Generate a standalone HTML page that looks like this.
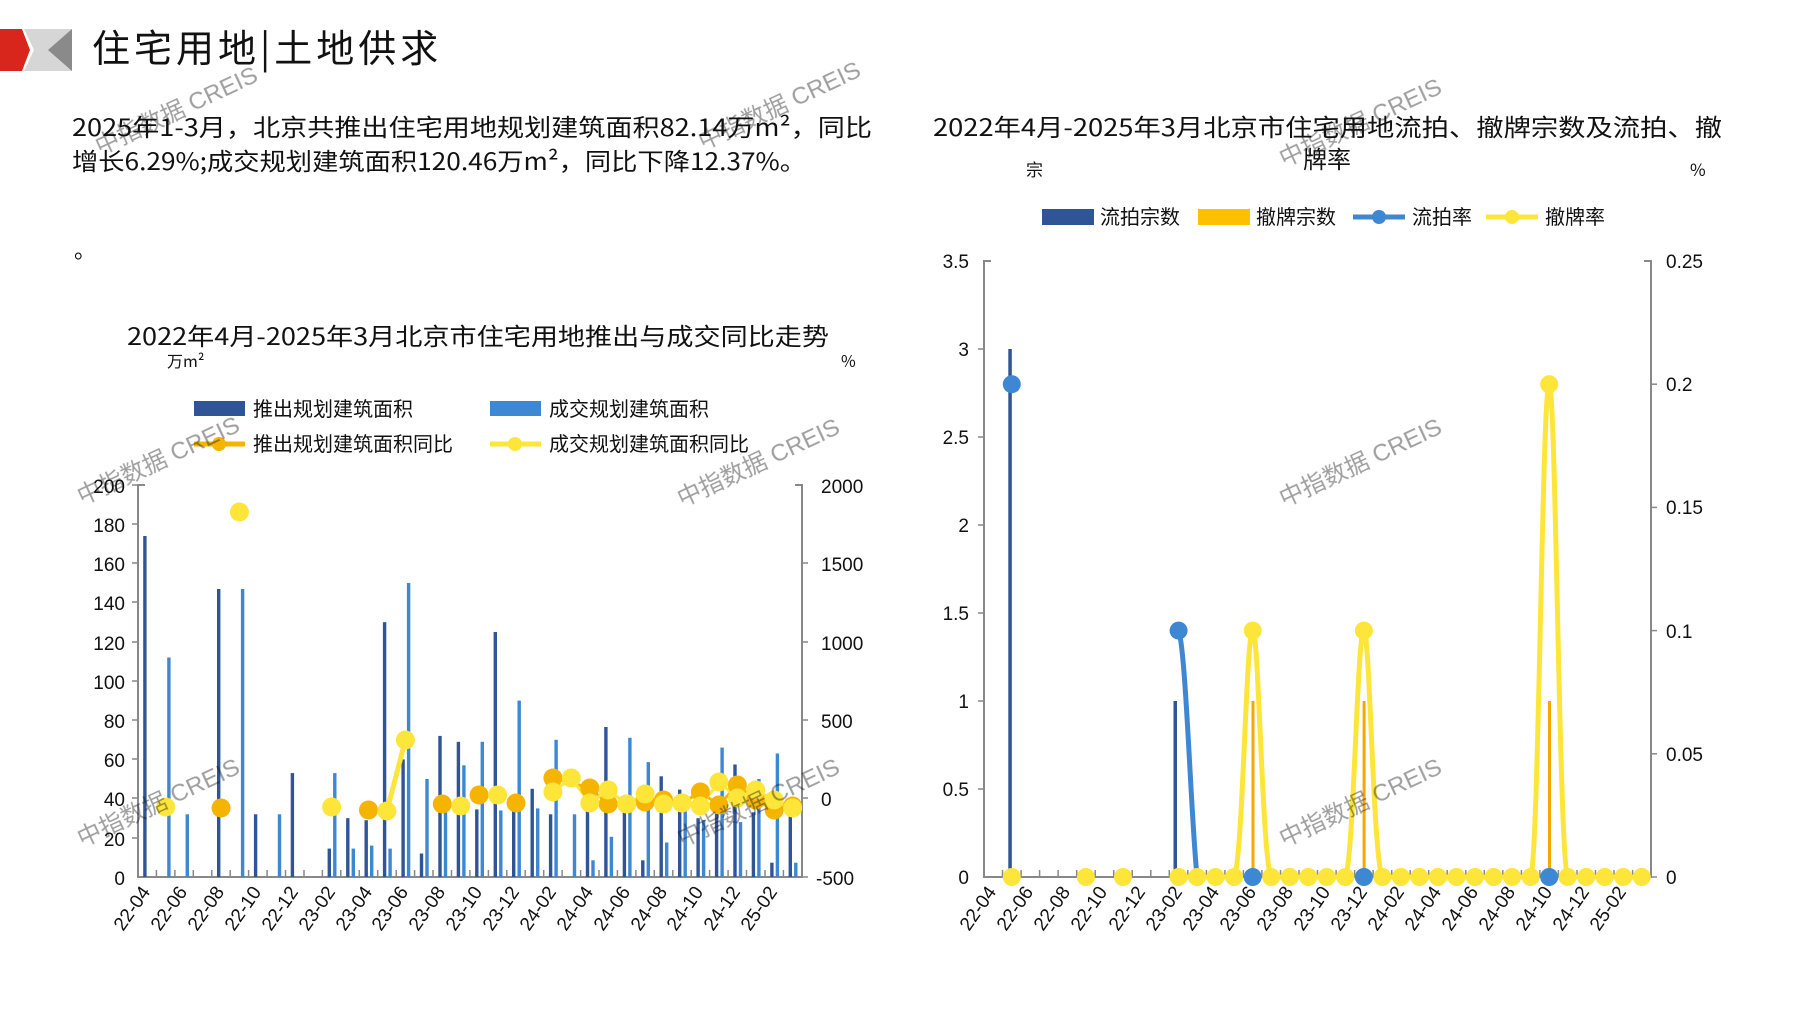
<!DOCTYPE html>
<html><head><meta charset="utf-8"><style>
html,body{margin:0;padding:0;background:#fff;}
svg{display:block;}
text{font-family:"Liberation Sans","Noto Sans CJK SC",sans-serif;fill:#111;}
.cj{font-family:"Noto Sans CJK SC","Liberation Sans",sans-serif;}
.wm{fill:#b8b8b8;opacity:.4;font-size:24px;font-family:"Liberation Sans","Noto Sans CJK SC",sans-serif;}
.ax{stroke:#888;stroke-width:2;fill:none;}
.tk{stroke:#888;stroke-width:1.5;}
.lb{font-size:19px;}
.xl{font-size:19px;}
</style></head><body>
<svg width="1797" height="1010" viewBox="0 0 1797 1010" xmlns="http://www.w3.org/2000/svg">
<polygon points="0,29 22,29 30,50 22,71 0,71" fill="#d9261c"/>
<polygon points="24,29 72,29 72,71 24,71 34,50" fill="#d6d6d6"/>
<polygon points="48,50 72,29 72,71" fill="#8a8a8a"/>
<text x="92" y="62" class="cj" font-size="38" letter-spacing="4">住宅用地|土地供求</text>

<text x="72" y="136" class="cj" font-size="24" textLength="800" lengthAdjust="spacingAndGlyphs">2025年1-3月，北京共推出住宅用地规划建筑面积82.14万m²，同比</text>
<text x="72" y="170" class="cj" font-size="24" textLength="734" lengthAdjust="spacingAndGlyphs">增长6.29%;成交规划建筑面积120.46万m²，同比下降12.37%。</text>
<text x="74" y="258" class="cj" font-size="22">。</text>

<text x="127" y="345" class="cj" font-size="24" textLength="702" lengthAdjust="spacingAndGlyphs">2022年4月-2025年3月北京市住宅用地推出与成交同比走势</text>
<text x="167" y="367" class="cj" font-size="16">万m²</text>
<text x="841" y="367" class="cj" font-size="16">%</text>
<rect x="194" y="401" width="51" height="15" fill="#2f5597"/>
<text x="253" y="416" class="cj" font-size="20">推出规划建筑面积</text>
<rect x="490" y="401" width="51" height="15" fill="#3e87d3"/>
<text x="549" y="416" class="cj" font-size="20">成交规划建筑面积</text>
<line x1="194" y1="444" x2="245" y2="444" stroke="#f5b400" stroke-width="5"/><circle cx="219" cy="444" r="7" fill="#f5b400"/>
<text x="253" y="451" class="cj" font-size="20">推出规划建筑面积同比</text>
<line x1="490" y1="444" x2="541" y2="444" stroke="#fde53a" stroke-width="5"/><circle cx="515" cy="444" r="7" fill="#fde53a"/>
<text x="549" y="451" class="cj" font-size="20">成交规划建筑面积同比</text>

<path class="ax" d="M145,485 H138 V877 H802 V485 H795"/>
<g class="tk">
<line x1="132" y1="485" x2="138" y2="485"/><line x1="132" y1="524" x2="138" y2="524"/><line x1="132" y1="563" x2="138" y2="563"/><line x1="132" y1="602" x2="138" y2="602"/><line x1="132" y1="642" x2="138" y2="642"/><line x1="132" y1="681" x2="138" y2="681"/><line x1="132" y1="720" x2="138" y2="720"/><line x1="132" y1="759" x2="138" y2="759"/><line x1="132" y1="798" x2="138" y2="798"/><line x1="132" y1="838" x2="138" y2="838"/>
<line x1="802" y1="563" x2="808" y2="563"/><line x1="802" y1="642" x2="808" y2="642"/><line x1="802" y1="720" x2="808" y2="720"/><line x1="802" y1="798" x2="808" y2="798"/><line x1="802" y1="877" x2="808" y2="877"/>
</g>
<g class="tk">
<line x1="156.4" y1="877" x2="156.4" y2="870"/><line x1="174.9" y1="877" x2="174.9" y2="870"/><line x1="193.3" y1="877" x2="193.3" y2="870"/><line x1="211.8" y1="877" x2="211.8" y2="870"/><line x1="230.2" y1="877" x2="230.2" y2="870"/><line x1="248.6" y1="877" x2="248.6" y2="870"/><line x1="267.1" y1="877" x2="267.1" y2="870"/><line x1="285.5" y1="877" x2="285.5" y2="870"/><line x1="304" y1="877" x2="304" y2="870"/><line x1="322.4" y1="877" x2="322.4" y2="870"/><line x1="340.8" y1="877" x2="340.8" y2="870"/><line x1="359.3" y1="877" x2="359.3" y2="870"/><line x1="377.7" y1="877" x2="377.7" y2="870"/><line x1="396.2" y1="877" x2="396.2" y2="870"/><line x1="414.6" y1="877" x2="414.6" y2="870"/><line x1="433" y1="877" x2="433" y2="870"/><line x1="451.5" y1="877" x2="451.5" y2="870"/><line x1="469.9" y1="877" x2="469.9" y2="870"/><line x1="488.4" y1="877" x2="488.4" y2="870"/><line x1="506.8" y1="877" x2="506.8" y2="870"/><line x1="525.2" y1="877" x2="525.2" y2="870"/><line x1="543.7" y1="877" x2="543.7" y2="870"/><line x1="562.1" y1="877" x2="562.1" y2="870"/><line x1="580.6" y1="877" x2="580.6" y2="870"/><line x1="599" y1="877" x2="599" y2="870"/><line x1="617.4" y1="877" x2="617.4" y2="870"/><line x1="635.9" y1="877" x2="635.9" y2="870"/><line x1="654.3" y1="877" x2="654.3" y2="870"/><line x1="672.8" y1="877" x2="672.8" y2="870"/><line x1="691.2" y1="877" x2="691.2" y2="870"/><line x1="709.6" y1="877" x2="709.6" y2="870"/><line x1="728.1" y1="877" x2="728.1" y2="870"/><line x1="746.5" y1="877" x2="746.5" y2="870"/><line x1="765" y1="877" x2="765" y2="870"/><line x1="783.4" y1="877" x2="783.4" y2="870"/>
</g>
<g class="lb" text-anchor="end">
<text x="125" y="493">200</text><text x="125" y="532">180</text><text x="125" y="571">160</text><text x="125" y="610">140</text><text x="125" y="650">120</text><text x="125" y="689">100</text><text x="125" y="728">80</text><text x="125" y="767">60</text><text x="125" y="806">40</text><text x="125" y="846">20</text><text x="125" y="885">0</text>
</g>
<g class="lb">
<text x="821" y="493">2000</text><text x="821" y="571">1500</text><text x="821" y="650">1000</text><text x="821" y="728">500</text><text x="821" y="806">0</text><text x="816" y="885">-500</text>
</g>
<g fill="#2f5597">
<rect x="143.2" y="536" width="3.4" height="341"/><rect x="217" y="589" width="3.4" height="288"/><rect x="253.9" y="814.3" width="3.4" height="62.7"/><rect x="290.7" y="773.1" width="3.4" height="103.9"/><rect x="327.6" y="848.6" width="3.4" height="28.4"/><rect x="346.1" y="818.2" width="3.4" height="58.8"/><rect x="364.5" y="820.2" width="3.4" height="56.8"/><rect x="382.9" y="622.2" width="3.4" height="254.8"/><rect x="401.4" y="759.4" width="3.4" height="117.6"/><rect x="419.8" y="853.5" width="3.4" height="23.5"/><rect x="438.3" y="735.9" width="3.4" height="141.1"/><rect x="456.7" y="741.8" width="3.4" height="135.2"/><rect x="475.1" y="809.4" width="3.4" height="67.6"/><rect x="493.6" y="632" width="3.4" height="245"/><rect x="512" y="803.3" width="3.4" height="73.7"/><rect x="530.5" y="788.8" width="3.4" height="88.2"/><rect x="548.9" y="814.3" width="3.4" height="62.7"/><rect x="585.8" y="806.4" width="3.4" height="70.6"/><rect x="604.2" y="727" width="3.4" height="150"/><rect x="622.7" y="808.4" width="3.4" height="68.6"/><rect x="641.1" y="860.3" width="3.4" height="16.7"/><rect x="659.5" y="776.3" width="3.4" height="100.7"/><rect x="678" y="789.6" width="3.4" height="87.4"/><rect x="696.4" y="818.2" width="3.4" height="58.8"/><rect x="714.9" y="798.6" width="3.4" height="78.4"/><rect x="733.3" y="764.5" width="3.4" height="112.5"/><rect x="751.7" y="812.3" width="3.4" height="64.7"/><rect x="770.2" y="862.7" width="3.4" height="14.3"/><rect x="788.6" y="798.6" width="3.4" height="78.4"/>
</g>
<g fill="#3e87d3">
<rect x="167.2" y="657.5" width="3.4" height="219.5"/><rect x="185.6" y="814.3" width="3.4" height="62.7"/><rect x="240.9" y="589" width="3.4" height="288"/><rect x="277.8" y="814.3" width="3.4" height="62.7"/><rect x="333.1" y="773.1" width="3.4" height="103.9"/><rect x="351.6" y="848.6" width="3.4" height="28.4"/><rect x="370" y="845.6" width="3.4" height="31.4"/><rect x="388.4" y="848.6" width="3.4" height="28.4"/><rect x="406.9" y="583" width="3.4" height="294"/><rect x="425.3" y="779" width="3.4" height="98"/><rect x="443.8" y="806.4" width="3.4" height="70.6"/><rect x="462.2" y="765.3" width="3.4" height="111.7"/><rect x="480.6" y="741.8" width="3.4" height="135.2"/><rect x="499.1" y="810.4" width="3.4" height="66.6"/><rect x="517.5" y="700.6" width="3.4" height="176.4"/><rect x="536" y="808.4" width="3.4" height="68.6"/><rect x="554.4" y="739.8" width="3.4" height="137.2"/><rect x="572.8" y="814.3" width="3.4" height="62.7"/><rect x="591.3" y="860.3" width="3.4" height="16.7"/><rect x="609.7" y="836.8" width="3.4" height="40.2"/><rect x="628.2" y="737.8" width="3.4" height="139.2"/><rect x="646.6" y="762.1" width="3.4" height="114.9"/><rect x="665" y="842.5" width="3.4" height="34.5"/><rect x="683.5" y="808.4" width="3.4" height="68.6"/><rect x="701.9" y="820.2" width="3.4" height="56.8"/><rect x="720.4" y="747.6" width="3.4" height="129.4"/><rect x="738.8" y="822.1" width="3.4" height="54.9"/><rect x="757.2" y="779" width="3.4" height="98"/><rect x="775.7" y="753.5" width="3.4" height="123.5"/><rect x="794.1" y="862.7" width="3.4" height="14.3"/>
</g>
<polyline fill="none" stroke="#f5b400" stroke-width="3" points="552.9,778 589.8,788 608.2,804 626.7,804 645.1,802 663.5,800 682,803 700.4,792 718.9,805 737.3,785 755.7,800 774.2,810 792.6,806"/>
<polyline fill="none" stroke="#fde53a" stroke-width="3" points="552.9,792 571.3,778 589.8,803 608.2,790 626.7,804 645.1,794 663.5,804 682,803 700.4,806 718.9,782 737.3,798 755.7,790 774.2,800 792.6,808"/>
<line x1="386.9" y1="811" x2="405.4" y2="740" stroke="#fde53a" stroke-width="5"/>
<g fill="#f5b400">
<circle cx="221" cy="808" r="9.5"/><circle cx="368.5" cy="810" r="9.5"/><circle cx="442.3" cy="804" r="9.5"/><circle cx="479.1" cy="795" r="9.5"/><circle cx="516" cy="803" r="9.5"/><circle cx="552.9" cy="778" r="9.5"/><circle cx="589.8" cy="788" r="9.5"/><circle cx="608.2" cy="804" r="9.5"/><circle cx="626.7" cy="804" r="9.5"/><circle cx="645.1" cy="802" r="9.5"/><circle cx="663.5" cy="800" r="9.5"/><circle cx="682" cy="803" r="9.5"/><circle cx="700.4" cy="792" r="9.5"/><circle cx="718.9" cy="805" r="9.5"/><circle cx="737.3" cy="785" r="9.5"/><circle cx="755.7" cy="800" r="9.5"/><circle cx="774.2" cy="810" r="9.5"/><circle cx="792.6" cy="806" r="9.5"/>
</g>
<g fill="#fde53a">
<circle cx="165.7" cy="807" r="9.5"/><circle cx="239.4" cy="512" r="9.5"/><circle cx="331.6" cy="807" r="9.5"/><circle cx="386.9" cy="811" r="9.5"/><circle cx="405.4" cy="740" r="9.5"/><circle cx="460.7" cy="806" r="9.5"/><circle cx="497.6" cy="795" r="9.5"/><circle cx="552.9" cy="792" r="9.5"/><circle cx="571.3" cy="778" r="9.5"/><circle cx="589.8" cy="803" r="9.5"/><circle cx="608.2" cy="790" r="9.5"/><circle cx="626.7" cy="804" r="9.5"/><circle cx="645.1" cy="794" r="9.5"/><circle cx="663.5" cy="804" r="9.5"/><circle cx="682" cy="803" r="9.5"/><circle cx="700.4" cy="806" r="9.5"/><circle cx="718.9" cy="782" r="9.5"/><circle cx="737.3" cy="798" r="9.5"/><circle cx="755.7" cy="790" r="9.5"/><circle cx="774.2" cy="800" r="9.5"/><circle cx="792.6" cy="808" r="9.5"/>
</g>
<g class="xl" text-anchor="end">
<text transform="translate(151,892) rotate(-55)">22-04</text>
<text transform="translate(188,892) rotate(-55)">22-06</text>
<text transform="translate(225,892) rotate(-55)">22-08</text>
<text transform="translate(262,892) rotate(-55)">22-10</text>
<text transform="translate(299,892) rotate(-55)">22-12</text>
<text transform="translate(336,892) rotate(-55)">23-02</text>
<text transform="translate(373,892) rotate(-55)">23-04</text>
<text transform="translate(409,892) rotate(-55)">23-06</text>
<text transform="translate(446,892) rotate(-55)">23-08</text>
<text transform="translate(483,892) rotate(-55)">23-10</text>
<text transform="translate(520,892) rotate(-55)">23-12</text>
<text transform="translate(557,892) rotate(-55)">24-02</text>
<text transform="translate(594,892) rotate(-55)">24-04</text>
<text transform="translate(631,892) rotate(-55)">24-06</text>
<text transform="translate(668,892) rotate(-55)">24-08</text>
<text transform="translate(704,892) rotate(-55)">24-10</text>
<text transform="translate(741,892) rotate(-55)">24-12</text>
<text transform="translate(778,892) rotate(-55)">25-02</text>
</g>

<text x="933" y="136" class="cj" font-size="24" textLength="789" lengthAdjust="spacingAndGlyphs">2022年4月-2025年3月北京市住宅用地流拍、撤牌宗数及流拍、撤</text>
<text x="1327" y="168" class="cj" font-size="24" text-anchor="middle">牌率</text>
<text x="1026" y="176" class="cj" font-size="17">宗</text>
<text x="1690" y="176" class="cj" font-size="17">%</text>
<rect x="1042" y="209" width="52" height="16" fill="#2f5597"/>
<text x="1100" y="224" class="cj" font-size="20">流拍宗数</text>
<rect x="1198" y="209" width="52" height="16" fill="#ffc000"/>
<text x="1256" y="224" class="cj" font-size="20">撤牌宗数</text>
<line x1="1353" y1="217" x2="1405" y2="217" stroke="#3e87d3" stroke-width="5"/><circle cx="1379" cy="217" r="7" fill="#3e87d3"/>
<text x="1412" y="224" class="cj" font-size="20">流拍率</text>
<line x1="1486" y1="217" x2="1538" y2="217" stroke="#fde53a" stroke-width="5"/><circle cx="1512" cy="217" r="7" fill="#fde53a"/>
<text x="1545" y="224" class="cj" font-size="20">撤牌率</text>

<g transform="translate(-4,0)">
<path class="ax" d="M995,261 H988 V877 H1655 V261 H1648"/>
<g class="tk">
<line x1="982" y1="349" x2="988" y2="349"/><line x1="982" y1="437" x2="988" y2="437"/><line x1="982" y1="525" x2="988" y2="525"/><line x1="982" y1="613" x2="988" y2="613"/><line x1="982" y1="701" x2="988" y2="701"/><line x1="982" y1="789" x2="988" y2="789"/>
<line x1="1655" y1="384.2" x2="1661" y2="384.2"/><line x1="1655" y1="507.4" x2="1661" y2="507.4"/><line x1="1655" y1="630.6" x2="1661" y2="630.6"/><line x1="1655" y1="753.8" x2="1661" y2="753.8"/><line x1="1655" y1="877" x2="1661" y2="877"/>
</g>
<g class="tk">
<line x1="1006.5" y1="877" x2="1006.5" y2="870"/><line x1="1025.1" y1="877" x2="1025.1" y2="870"/><line x1="1043.6" y1="877" x2="1043.6" y2="870"/><line x1="1062.1" y1="877" x2="1062.1" y2="870"/><line x1="1080.7" y1="877" x2="1080.7" y2="870"/><line x1="1099.2" y1="877" x2="1099.2" y2="870"/><line x1="1117.7" y1="877" x2="1117.7" y2="870"/><line x1="1136.2" y1="877" x2="1136.2" y2="870"/><line x1="1154.8" y1="877" x2="1154.8" y2="870"/><line x1="1173.3" y1="877" x2="1173.3" y2="870"/><line x1="1191.8" y1="877" x2="1191.8" y2="870"/><line x1="1210.4" y1="877" x2="1210.4" y2="870"/><line x1="1228.9" y1="877" x2="1228.9" y2="870"/><line x1="1247.4" y1="877" x2="1247.4" y2="870"/><line x1="1265.9" y1="877" x2="1265.9" y2="870"/><line x1="1284.5" y1="877" x2="1284.5" y2="870"/><line x1="1303" y1="877" x2="1303" y2="870"/><line x1="1321.5" y1="877" x2="1321.5" y2="870"/><line x1="1340.1" y1="877" x2="1340.1" y2="870"/><line x1="1358.6" y1="877" x2="1358.6" y2="870"/><line x1="1377.1" y1="877" x2="1377.1" y2="870"/><line x1="1395.7" y1="877" x2="1395.7" y2="870"/><line x1="1414.2" y1="877" x2="1414.2" y2="870"/><line x1="1432.7" y1="877" x2="1432.7" y2="870"/><line x1="1451.2" y1="877" x2="1451.2" y2="870"/><line x1="1469.8" y1="877" x2="1469.8" y2="870"/><line x1="1488.3" y1="877" x2="1488.3" y2="870"/><line x1="1506.8" y1="877" x2="1506.8" y2="870"/><line x1="1525.4" y1="877" x2="1525.4" y2="870"/><line x1="1543.9" y1="877" x2="1543.9" y2="870"/><line x1="1562.4" y1="877" x2="1562.4" y2="870"/><line x1="1581" y1="877" x2="1581" y2="870"/><line x1="1599.5" y1="877" x2="1599.5" y2="870"/><line x1="1618" y1="877" x2="1618" y2="870"/><line x1="1636.6" y1="877" x2="1636.6" y2="870"/>
</g>
<g class="lb" text-anchor="end">
<text x="973" y="268">3.5</text><text x="973" y="356">3</text><text x="973" y="444">2.5</text><text x="973" y="532">2</text><text x="973" y="620">1.5</text><text x="973" y="708">1</text><text x="973" y="796">0.5</text><text x="973" y="884">0</text>
</g>
<g class="lb">
<text x="1670" y="268">0.25</text><text x="1670" y="391">0.2</text><text x="1670" y="514">0.15</text><text x="1670" y="638">0.1</text><text x="1670" y="761">0.05</text><text x="1670" y="884">0</text>
</g>
<rect x="1012.3" y="349" width="3.5" height="528" fill="#2f5597"/>
<rect x="1177.5" y="701" width="3.5" height="176" fill="#2f5597"/>
<rect x="1255.5" y="701" width="3" height="176" fill="#f5a800"/>
<rect x="1366.6" y="701" width="3" height="176" fill="#f5a800"/>
<rect x="1552" y="701" width="3" height="176" fill="#f5a800"/>
<path d="M1182.6,630.6 C1190,650 1195,820 1201.1,877" fill="none" stroke="#3e87d3" stroke-width="5"/>
<g fill="#3e87d3">
<circle cx="1015.8" cy="384.2" r="9"/><circle cx="1182.6" cy="630.6" r="9"/><circle cx="1256.7" cy="877" r="9"/><circle cx="1367.9" cy="877" r="9"/><circle cx="1553.2" cy="877" r="9"/>
</g>
<path fill="none" stroke="#fde53a" stroke-width="5" stroke-linejoin="round" d="M1182.6,877 L1238.1,877 C1247,860 1250,630.6 1256.7,630.6 C1263,630.6 1266,860 1275.2,877 L1349.3,877 C1358,860 1361,630.6 1367.9,630.6 C1374,630.6 1377,860 1386.4,877 L1534.6,877 C1543,860 1546,384.2 1553.2,384.2 C1560,384.2 1563,860 1571.7,877 L1645.8,877"/>
<g fill="#fde53a">
<circle cx="1015.8" cy="877" r="9"/><circle cx="1089.9" cy="877" r="9"/><circle cx="1127" cy="877" r="9"/>
<circle cx="1182.6" cy="877" r="9"/><circle cx="1201.1" cy="877" r="9"/><circle cx="1219.6" cy="877" r="9"/><circle cx="1238.1" cy="877" r="9"/><circle cx="1256.7" cy="630.6" r="9"/><circle cx="1275.2" cy="877" r="9"/><circle cx="1293.7" cy="877" r="9"/><circle cx="1312.3" cy="877" r="9"/><circle cx="1330.8" cy="877" r="9"/><circle cx="1349.3" cy="877" r="9"/><circle cx="1367.9" cy="630.6" r="9"/><circle cx="1386.4" cy="877" r="9"/><circle cx="1404.9" cy="877" r="9"/><circle cx="1423.4" cy="877" r="9"/><circle cx="1442" cy="877" r="9"/><circle cx="1460.5" cy="877" r="9"/><circle cx="1479" cy="877" r="9"/><circle cx="1497.6" cy="877" r="9"/><circle cx="1516.1" cy="877" r="9"/><circle cx="1534.6" cy="877" r="9"/><circle cx="1553.2" cy="384.2" r="9"/><circle cx="1571.7" cy="877" r="9"/><circle cx="1590.2" cy="877" r="9"/><circle cx="1608.7" cy="877" r="9"/><circle cx="1627.3" cy="877" r="9"/><circle cx="1645.8" cy="877" r="9"/>
</g>
<g class="xl" text-anchor="end">
<text transform="translate(1001,892) rotate(-55)">22-04</text>
<text transform="translate(1038,892) rotate(-55)">22-06</text>
<text transform="translate(1075,892) rotate(-55)">22-08</text>
<text transform="translate(1112,892) rotate(-55)">22-10</text>
<text transform="translate(1150,892) rotate(-55)">22-12</text>
<text transform="translate(1187,892) rotate(-55)">23-02</text>
<text transform="translate(1224,892) rotate(-55)">23-04</text>
<text transform="translate(1261,892) rotate(-55)">23-06</text>
<text transform="translate(1298,892) rotate(-55)">23-08</text>
<text transform="translate(1335,892) rotate(-55)">23-10</text>
<text transform="translate(1372,892) rotate(-55)">23-12</text>
<text transform="translate(1409,892) rotate(-55)">24-02</text>
<text transform="translate(1446,892) rotate(-55)">24-04</text>
<text transform="translate(1483,892) rotate(-55)">24-06</text>
<text transform="translate(1520,892) rotate(-55)">24-08</text>
<text transform="translate(1557,892) rotate(-55)">24-10</text>
<text transform="translate(1594,892) rotate(-55)">24-12</text>
<text transform="translate(1631,892) rotate(-55)">25-02</text>
</g>
</g>

<g class="wm">
<text transform="translate(100,155) rotate(-25)">中指数据 CREIS</text>
<text transform="translate(703,150) rotate(-25)">中指数据 CREIS</text>
<text transform="translate(1284,167) rotate(-25)">中指数据 CREIS</text>
<text transform="translate(82,505) rotate(-25)">中指数据 CREIS</text>
<text transform="translate(682,507) rotate(-25)">中指数据 CREIS</text>
<text transform="translate(1284,507) rotate(-25)">中指数据 CREIS</text>
<text transform="translate(82,847) rotate(-25)">中指数据 CREIS</text>
<text transform="translate(682,847) rotate(-25)">中指数据 CREIS</text>
<text transform="translate(1284,847) rotate(-25)">中指数据 CREIS</text>
</g>
</svg>
</body></html>
